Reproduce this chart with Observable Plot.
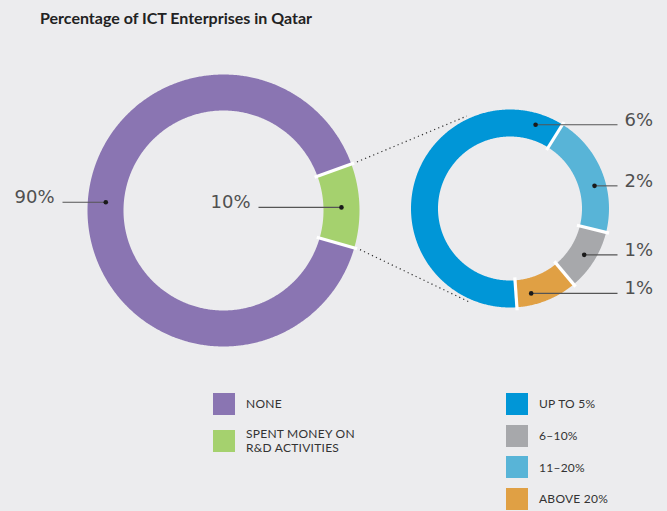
<!DOCTYPE html>
<html>
<head>
<meta charset="utf-8">
<script src="https://cdn.jsdelivr.net/npm/d3@7"></script>
<script src="https://cdn.jsdelivr.net/npm/@observablehq/plot@0.6"></script>
<style>
  html, body { margin: 0; padding: 0; background: #ECECEE; }
  #wrap { position: relative; width: 667px; height: 511px; overflow: hidden; background: #ECECEE; font-family: Lato, "Open Sans", sans-serif; }
  #title { position: absolute; left: 40px; top: 8px; font-size: 16px; font-weight: 700; color: #222; white-space: nowrap; }
  #chart { position: absolute; left: 0; top: 0; }
  .leg { position: absolute; width: 150px; }
  .item { position: absolute; left: 0; display: flex; align-items: center; white-space: nowrap; }
  .sw { width: 22px; height: 22px; flex: none; }
  .lab { margin-left: 11px; font-size: 12px; color: #333; line-height: 13.5px; letter-spacing: 0.25px; white-space: nowrap; }
</style>
</head>
<body>
<div id="wrap">
  <div id="chart"></div>
  <div id="title">Percentage of ICT Enterprises in Qatar</div>
  <div id="legL" class="leg" style="left:213px; top:393px;"></div>
  <div id="legR" class="leg" style="left:506px; top:393px;"></div>
</div>
<script>
// ---- data ----
const mainCategories = ["NONE", "SPENT MONEY ON R&D ACTIVITIES"];
const mainValues = [90, 10];
const mainLabels = ["90%", "10%"];
const subCategories = ["UP TO 5%", "11–20%", "6–10%", "ABOVE 20%"];
const subValues = [6, 2, 1, 1];
const subLabels = ["6%", "2%", "1%", "1%"];
const legendMain = ["NONE", "SPENT MONEY ON<br>R&amp;D ACTIVITIES"];
const legendSub = ["UP TO 5%", "6–10%", "11–20%", "ABOVE 20%"];

// ---- styling / layout ----
const colorOf = {
  "NONE": "#8A75B2",
  "SPENT MONEY ON R&D ACTIVITIES": "#A5D16E",
  "UP TO 5%": "#0096D7",
  "11–20%": "#58B4D7",
  "6–10%": "#A7A8AB",
  "ABOVE 20%": "#E0A044"
};
const W = 667, H = 380;
const big = {cx: 223, cy: 210, R: 136, r: 100, start: 106, labelAngles: [274, 88.5]};
const small = {cx: 509.5, cy: 208, R: 99, r: 72, start: 176, labelAngles: [17, 75, 122, 166]};

const rad = d => d * Math.PI / 180;
const pt = (c, a, r) => ({x: c.cx + r * Math.sin(rad(a)), y: c.cy - r * Math.cos(rad(a))});

function slices(c, cats, vals) {
  const tot = d3.sum(vals);
  let a = c.start;
  return cats.map((k, i) => {
    const a0 = a, a1 = a + vals[i] / tot * 360;
    a = a1;
    return {key: k, a0, a1, i};
  });
}
function arcPoints(c, sl) {
  const rm = (c.R + c.r) / 2;
  const out = [];
  for (const s of sl) {
    const n = Math.ceil((s.a1 - s.a0) / 0.5);
    for (let j = 0; j <= n; j++) {
      const a = s.a0 + (s.a1 - s.a0) * j / n;
      out.push({key: s.key, ...pt(c, a, rm)});
    }
  }
  return out;
}
function gaps(c, sl) {
  return sl.map(s => {
    const p1 = pt(c, s.a0, c.r - 3), p2 = pt(c, s.a0, c.R + 3);
    return {x1: p1.x, y1: p1.y, x2: p2.x, y2: p2.y};
  });
}

const bigSl = slices(big, mainCategories, mainValues);
const smallSl = slices(small, subCategories, subValues);

// labels
const rmB = (big.R + big.r) / 2, rmS = (small.R + small.r) / 2 + 2;
const bigLab = mainLabels.map((t, i) => {
  const p = pt(big, big.labelAngles[i], rmB);
  const xEnd = i === 0 ? 62 : 258;
  return {t, dx: p.x, dy: p.y, lx: xEnd, tx: xEnd - 8};
});
const smallLab = subLabels.map((t, i) => {
  const p = pt(small, small.labelAngles[i], rmS);
  return {t, dx: p.x, dy: p.y, lx: 617, tx: 624};
});

// connectors (dotted)
const conn = [
  {p1: pt(big, bigSl[1].a0 - 360, big.R + 6), p2: pt(small, 335, small.R + 3)},
  {p1: pt(big, bigSl[0].a0, big.R + 6), p2: pt(small, 203, small.R + 3)}
].map(d => ({x1: d.p1.x, y1: d.p1.y, x2: d.p2.x, y2: d.p2.y}));

const allCats = [...mainCategories, ...subCategories];
const txtFont = {fontFamily: "DejaVu Sans", fontSize: 18, fill: "#505050"};

const chart = Plot.plot({
  width: W, height: H,
  margin: 0,
  x: {domain: [0, W], range: [0, W], axis: null},
  y: {domain: [0, H], range: [0, H], axis: null},
  color: {domain: allCats, range: allCats.map(k => colorOf[k])},
  style: {background: "transparent", overflow: "visible"},
  marks: [
    Plot.link(conn, {x1: "x1", y1: "y1", x2: "x2", y2: "y2", stroke: "#333", strokeWidth: 1.2, strokeDasharray: "1.2,3.2"}),
    Plot.line(arcPoints(big, bigSl), {x: "x", y: "y", z: "key", stroke: "key", strokeWidth: big.R - big.r, strokeLinecap: "butt", strokeLinejoin: "round", curve: "linear"}),
    Plot.line(arcPoints(small, smallSl), {x: "x", y: "y", z: "key", stroke: "key", strokeWidth: small.R - small.r, strokeLinecap: "butt", strokeLinejoin: "round", curve: "linear"}),
    Plot.link([...gaps(big, bigSl), ...gaps(small, smallSl)], {x1: "x1", y1: "y1", x2: "x2", y2: "y2", stroke: "#fff", strokeWidth: 3.2}),
    Plot.link([...bigLab, ...smallLab], {x1: "dx", y1: "dy", x2: "lx", y2: "dy", stroke: "#555", strokeWidth: 1.1}),
    Plot.dot([...bigLab, ...smallLab], {x: "dx", y: "dy", r: 2.3, fill: "#1a1a1a", stroke: null}),
    Plot.text(bigLab, {x: "tx", y: "dy", text: "t", textAnchor: "end", dy: -5, ...txtFont}),
    Plot.text(smallLab, {x: "tx", y: "dy", text: "t", textAnchor: "start", dy: -5, ...txtFont})
  ]
});
document.getElementById("chart").appendChild(chart);

// legends
function legend(el, labels, keys, step) {
  labels.forEach((l, i) => {
    const it = document.createElement("div");
    it.className = "item";
    it.style.top = (i * step) + "px";
    it.innerHTML = `<div class="sw" style="background:${colorOf[keys[i]]}"></div><div class="lab">${l}</div>`;
    el.appendChild(it);
  });
}
legend(document.getElementById("legL"), legendMain, mainCategories, 34);
legend(document.getElementById("legR"), legendSub, ["UP TO 5%", "6–10%", "11–20%", "ABOVE 20%"], 31.7);
</script>
</body>
</html>
